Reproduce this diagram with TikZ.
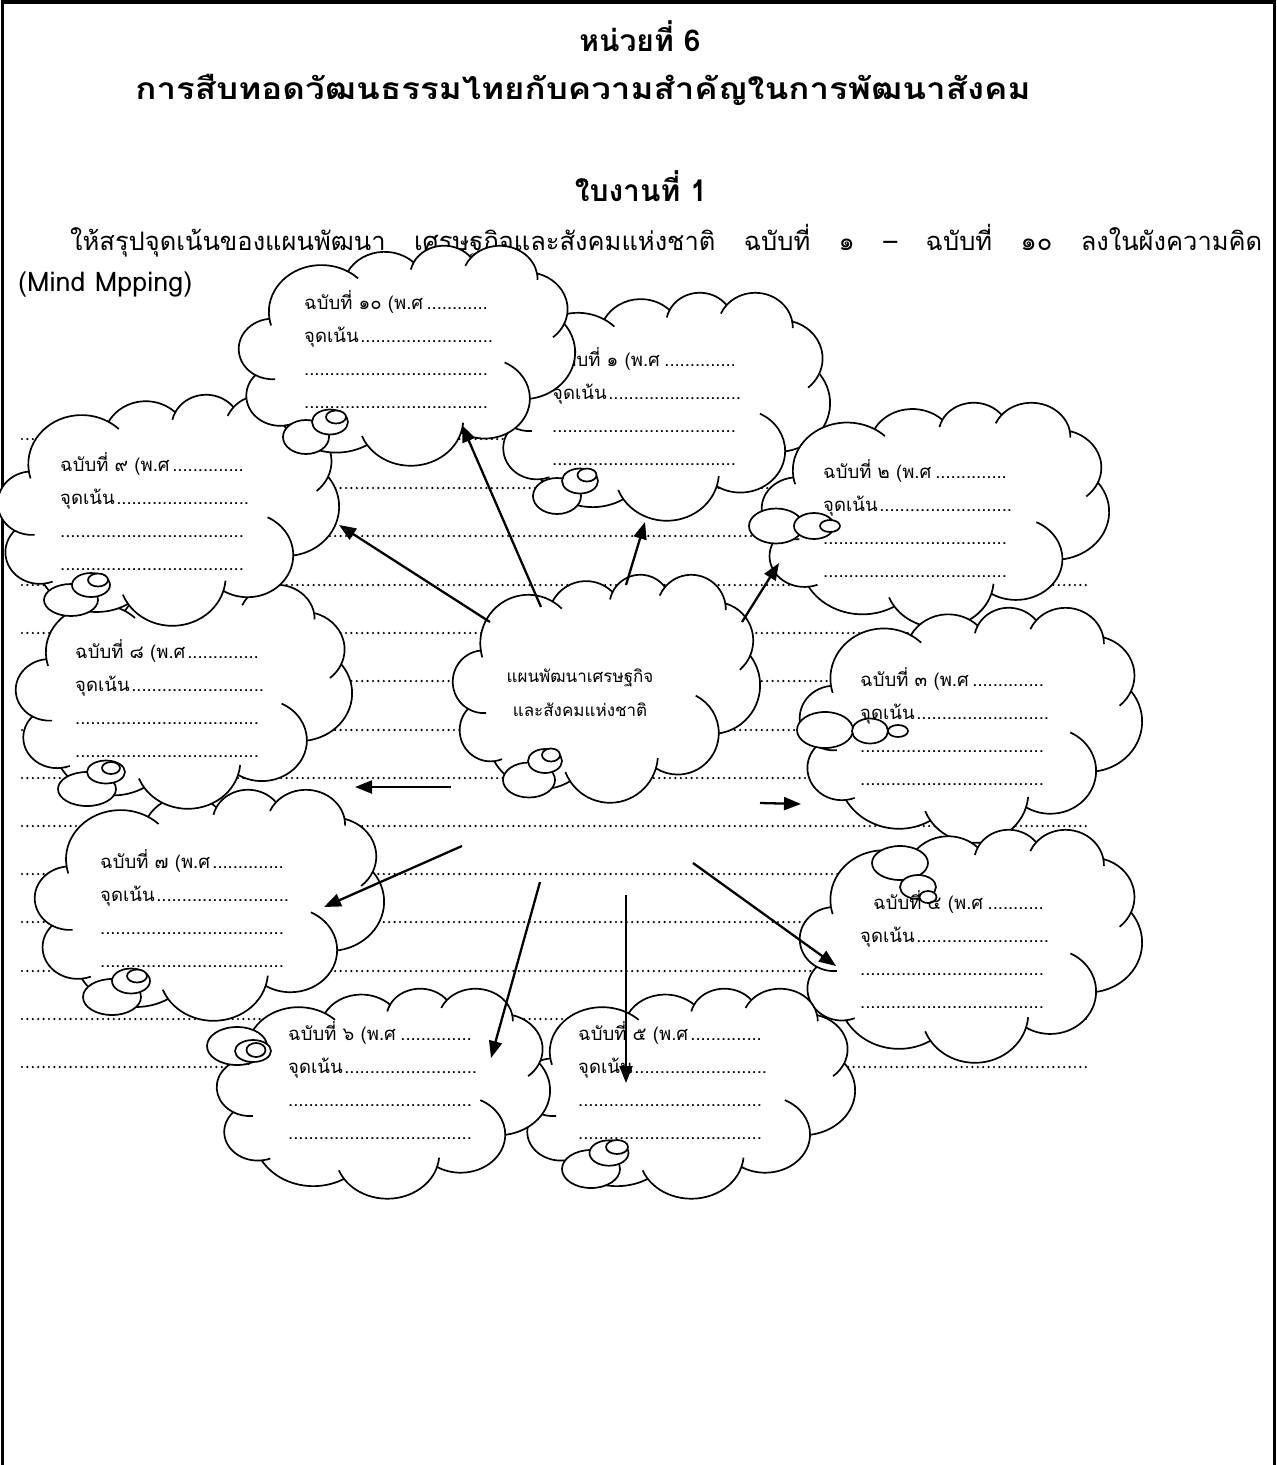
\documentclass[tikz,border=0pt]{standalone}
\usepackage{fontspec}
\setmainfont{Loma}[Script=Thai]
\usetikzlibrary{arrows.meta}
\def\dfill{\leaders\hbox to 5.1pt{\hss.\hss}\hfill}
% Word-style cloud: arcs given as (ellipse wR, hR, visual start angle, visual sweep)
\newcommand\wcarc[5]{%
  \pgfmathsetmacro\wcS{atan2((#2)*sin(#4),(#3)*cos(#4))}%
  \pgfmathsetmacro\wcE{atan2((#2)*sin((#4)+(#5)),(#3)*cos((#4)+(#5)))}%
  \pgfmathsetmacro\wcD{mod((\wcE)-(\wcS)+720,360)}%
  \pgfmathsetmacro\wcD{ifthenelse((#5)<0,(\wcD)-360,\wcD)}%
  \pgfmathsetmacro\wcNS{-(\wcS)}%
  \pgfmathsetmacro\wcNE{-(\wcS)-(\wcD)}%
  \expandafter\xdef\csname wcS#1\endcsname{\wcNS}%
  \expandafter\xdef\csname wcE#1\endcsname{\wcNE}%
}
\newcommand\wcloud[5]{%
  \pgfmathsetmacro\wcsx{(#4)/4320}%
  \pgfmathsetmacro\wcsy{(#5)/4320}%
  \foreach \k/\w/\h in {a/675.3/919.0,b/533.3/726.7,c/436.5/594.5,d/485.7/659.5,e/533.3/727.3,f/677.5/922.0,g/578.5/786.7,h/675.2/921.5,i/772.0/1054.3,j/436.0/591.8,k/434.5/594.5}{%
    \pgfmathsetmacro\wctmp{\w*\wcsx}\expandafter\xdef\csname rx\k\endcsname{\wctmp}%
    \pgfmathsetmacro\wctmp{\h*\wcsy}\expandafter\xdef\csname ry\k\endcsname{\wctmp}}%
  \path[cloudline,fill=white] ({#2+390*\wcsx},{#3+1437*\wcsy}) coordinate (#1-p0)
    arc[start angle=\wcSa,end angle=\wcEa,x radius=\rxa pt,y radius=\rya pt] coordinate (#1-p1)
    arc[start angle=\wcSb,end angle=\wcEb,x radius=\rxb pt,y radius=\ryb pt] coordinate (#1-p2)
    arc[start angle=\wcSc,end angle=\wcEc,x radius=\rxc pt,y radius=\ryc pt] coordinate (#1-p3)
    arc[start angle=\wcSd,end angle=\wcEd,x radius=\rxd pt,y radius=\ryd pt] coordinate (#1-p4)
    arc[start angle=\wcSe,end angle=\wcEe,x radius=\rxe pt,y radius=\rye pt] coordinate (#1-p5)
    arc[start angle=\wcSf,end angle=\wcEf,x radius=\rxf pt,y radius=\ryf pt] coordinate (#1-p6)
    arc[start angle=\wcSg,end angle=\wcEg,x radius=\rxg pt,y radius=\ryg pt] coordinate (#1-p7)
    arc[start angle=\wcSh,end angle=\wcEh,x radius=\rxh pt,y radius=\ryh pt] coordinate (#1-p8)
    arc[start angle=\wcSi,end angle=\wcEi,x radius=\rxi pt,y radius=\ryi pt] coordinate (#1-p9)
    arc[start angle=\wcSj,end angle=\wcEj,x radius=\rxj pt,y radius=\ryj pt] coordinate (#1-p10)
    arc[start angle=\wcSk,end angle=\wcEk,x radius=\rxk pt,y radius=\ryk pt] -- cycle;
  \draw[cloudline] (#1-p10) arc[start angle=\wcSca,end angle=\wcEca,x radius=\rxk pt,y radius=\ryk pt];
  \draw[cloudline] (#1-p9) arc[start angle=\wcScb,end angle=\wcEcb,x radius=\rxj pt,y radius=\ryj pt];
  \draw[cloudline] (#1-p8) arc[start angle=\wcScc,end angle=\wcEcc,x radius=\rxh pt,y radius=\ryh pt];
  \draw[cloudline] (#1-p7) arc[start angle=\wcScd,end angle=\wcEcd,x radius=\rxh pt,y radius=\ryh pt];
  \draw[cloudline] (#1-p6) arc[start angle=\wcSce,end angle=\wcEce,x radius=\rxg pt,y radius=\ryg pt];
  \draw[cloudline] (#1-p5) arc[start angle=\wcScf,end angle=\wcEcf,x radius=\rxe pt,y radius=\rye pt];
  \draw[cloudline] (#1-p4) arc[start angle=\wcScg,end angle=\wcEcg,x radius=\rxd pt,y radius=\ryd pt];
  \draw[cloudline] (#1-p3) arc[start angle=\wcSch,end angle=\wcEch,x radius=\rxd pt,y radius=\ryd pt];
  \draw[cloudline] (#1-p2) arc[start angle=\wcSci,end angle=\wcEci,x radius=\rxc pt,y radius=\ryc pt];
  \draw[cloudline] (#1-p1) arc[start angle=\wcScj,end angle=\wcEcj,x radius=\rxa pt,y radius=\rya pt];
  \draw[cloudline] (#1-p0) arc[start angle=\wcSck,end angle=\wcEck,x radius=\rxa pt,y radius=\rya pt];
}
\newcommand\bub[4]{\path[cloudline,fill=white] (#1,#2) ellipse [x radius=#3pt,y radius=#4pt];}
\newcommand\ctext[4]{%
  \node[ctx] (#1-l1) at (#2,#3) {\hbox to 188pt{#4\dfill}};
  \node[ctx] (#1-l2) at (#2,#3+33) {\hbox to 190pt{จุดเน้น\dfill}};
  \node[ctx] (#1-l3) at (#2,#3+66) {\hbox to 186pt{\dfill}};
  \node[ctx] (#1-l4) at (#2,#3+99) {\hbox to 186pt{\dfill}};
}
\begin{document}
\begin{tikzpicture}[x=1pt,y=-1pt,
  cloudline/.style={draw=black,line width=1.7pt,line join=round},
  dotrow/.style={line width=2.4pt,line cap=round,dash pattern=on 0pt off 5.4pt},
  arr/.style={line width=2.3pt,-{Triangle[length=17pt,width=13pt]}},
  ctx/.style={anchor=base west,inner sep=0pt,font=\fontsize{18.5}{22}\selectfont},
  ttl/.style={anchor=base,inner sep=0pt,font=\fontsize{30}{36}\selectfont\bfseries},
  body/.style={anchor=base west,inner sep=0pt,font=\fontsize{25.5}{30}\selectfont},
  ctr/.style={anchor=base,inner sep=0pt,font=\fontsize{17}{22}\selectfont}]
\useasboundingbox (0,0) rectangle (1277,1465);
\fill[white] (0,0) rectangle (1277,1465);
% precompute cloud arcs
\wcarc{a}{675.3}{919.0}{-190.48748}{123.78053}
\wcarc{b}{533.3}{726.7}{-144.10238}{89.94523}
\wcarc{c}{436.5}{594.5}{-145.80792}{99.72302}
\wcarc{d}{485.7}{659.5}{-130.98607}{117.24173}
\wcarc{e}{533.3}{727.3}{-78.70888}{109.02692}
\wcarc{f}{677.5}{922.0}{-46.26725}{130.269}
\wcarc{g}{578.5}{786.7}{0.62502}{114.03333}
\wcarc{h}{675.2}{921.5}{22.4516}{115.17255}
\wcarc{i}{772.0}{1054.3}{66.24263}{75.71102}
\wcarc{j}{436.0}{591.8}{-274.94208}{146.73557}
\wcarc{k}{434.5}{594.5}{-246.8285}{152.51885}
\wcarc{ca}{434.5}{594.5}{-246.8285}{-26.4295}
\wcarc{cb}{436.0}{591.8}{-274.94208}{-11.44747}
\wcarc{cc}{675.2}{921.5}{137.62415}{14.0811}
\wcarc{cd}{675.2}{921.5}{22.4516}{-15.99835}
\wcarc{ce}{578.5}{786.7}{0.62502}{-70.91737}
\wcarc{cf}{533.3}{727.3}{30.31804}{27.7515}
\wcarc{cg}{485.7}{659.5}{-13.74434}{14.85723}
\wcarc{ch}{485.7}{659.5}{-130.98607}{-18.19537}
\wcarc{ci}{436.5}{594.5}{-145.80792}{-17.68635}
\wcarc{cj}{675.3}{919.0}{-66.70695}{12.31935}
\wcarc{ck}{675.3}{919.0}{-190.48748}{-11.85817}
% page frame
\draw[line width=3.5pt] (2.5,1466) -- (2.5,1.8) -- (1274.5,1.8) -- (1274.5,1466);
% headings
\node[ttl] (title) at (640,51) {หน่วยที่ 6};
\node[ttl] (subtitle) at (583,99) {\resizebox{895pt}{\height}{การสืบทอดวัฒนธรรมไทยกับความสำคัญในการพัฒนาสังคม}};
\node[ttl] (sheet) at (641,201) {ใบงานที่ 1};
\node[body] (instr) at (70,250) {\makebox[1192pt][s]{ให้สรุปจุดเน้นของแผนพัฒนา เศรษฐกิจและสังคมแห่งชาติ ฉบับที่ ๑ – ฉบับที่ ๑๐ ลงในผังความคิด}};
\node[body,font=\fontsize{27}{30}\selectfont] (mind) at (18,291) {(Mind Mpping)};
% dotted writing rows
\foreach \yy in {439,488,536,585,633,681,730,778,826,874,922,971,1019,1067}
  \draw[dotrow] (22,\yy) -- (1090,\yy);
% clouds
\wcloud{c7}{35}{789}{349}{231}
\bub{112}{997}{29}{18}\bub{131}{981}{19}{12.5}\bub{137}{976}{10}{6.5}
\ctext{t7}{100}{868}{ฉบับที่ ๗ (พ.ศ}
\wcloud{c8}{16}{584}{336}{224}
\bub{87}{789}{29}{17}\bub{106}{772}{19}{11.5}\bub{111}{768}{9}{6}
\ctext{t8}{75}{658}{ฉบับที่ ๘ (พ.ศ}
\wcloud{c9}{-2}{394}{341}{231}
\bub{71}{600}{27}{16}\bub{91}{585}{19}{12}\bub{98}{580}{10}{6.5}
\ctext{t9}{60}{471}{ฉบับที่ ๙ (พ.ศ}
\wcloud{c1}{496}{292}{334}{228}
\bub{557}{496}{24}{18}\bub{580}{481}{18}{12.5}\bub{587}{475}{9.5}{6.5}
\ctext{t1}{552}{366}{ฉบับที่ ๑ (พ.ศ}
\wcloud{c10}{239}{245}{336}{220}
\bub{306}{437}{23}{17}\bub{330}{422}{18}{12.5}\bub{336}{417}{10}{6.5}
\ctext{t10}{304}{309}{ฉบับที่ ๑๐ (พ.ศ}
\wcloud{c2}{762}{402}{347}{225}
\bub{776}{526}{27}{17.5}\bub{814}{526}{20}{13}\bub{830}{526}{10}{6}
\ctext{t2}{823}{478}{ฉบับที่ ๒ (พ.ศ}
\wcloud{c3}{800}{607}{342}{235}
\bub{825}{730}{28}{18}\bub{870}{731}{18}{12.5}\bub{898}{731}{10}{6}
\ctext{t3}{860}{686}{ฉบับที่ ๓ (พ.ศ}
\wcloud{c4}{800}{829}{342}{233}
\bub{900}{863}{28}{17}\bub{918}{887}{18}{12}\bub{928}{897}{8.5}{6}
\ctext{t4}{860}{909}{\hspace*{13pt}ฉบับที่ ๔ (พ.ศ}
\wcloud{cc}{453}{574}{307}{228}
\bub{529}{780}{26}{17.5}\bub{545}{761}{17}{12}\bub{551}{755}{9}{6.5}
\node[ctr] (centre1) at (580,682) {แผนพัฒนาเศรษฐกิจ};
\node[ctr] (centre2) at (580,716) {และสังคมแห่งชาติ};
\wcloud{c5}{520}{988}{335}{210}
\bub{591}{1169}{29}{19}\bub{609}{1153}{19.5}{12.7}\bub{617}{1147}{11}{7}
\ctext{t5}{578}{1040}{ฉบับที่ ๕ (พ.ศ}
\wcloud{c6}{217}{988}{333}{210}
\bub{237}{1046}{30}{19}\bub{253}{1051}{18}{11}\bub{256}{1050}{9.5}{7}
\ctext{t6}{288}{1040}{ฉบับที่ ๖ (พ.ศ}
% arrows
\coordinate (a1s) at (541,607); \coordinate (a1e) at (462,425);
\coordinate (a2s) at (490,622); \coordinate (a2e) at (339,525);
\coordinate (a3s) at (626,585); \coordinate (a3e) at (645,522);
\coordinate (a4s) at (742,622); \coordinate (a4e) at (779,563);
\coordinate (a5s) at (451,787); \coordinate (a5e) at (355,787);
\coordinate (a6s) at (760,803); \coordinate (a6e) at (801,804);
\coordinate (a7s) at (462,846); \coordinate (a7e) at (324,907);
\coordinate (a8s) at (540,882); \coordinate (a8e) at (491,1058);
\coordinate (a9s) at (626,895); \coordinate (a9e) at (626,1083);
\coordinate (a10s) at (693,863); \coordinate (a10e) at (836,966);
\foreach \n in {1,...,10} \draw[arr] (a\n s) -- (a\n e);
\end{tikzpicture}
\end{document}
